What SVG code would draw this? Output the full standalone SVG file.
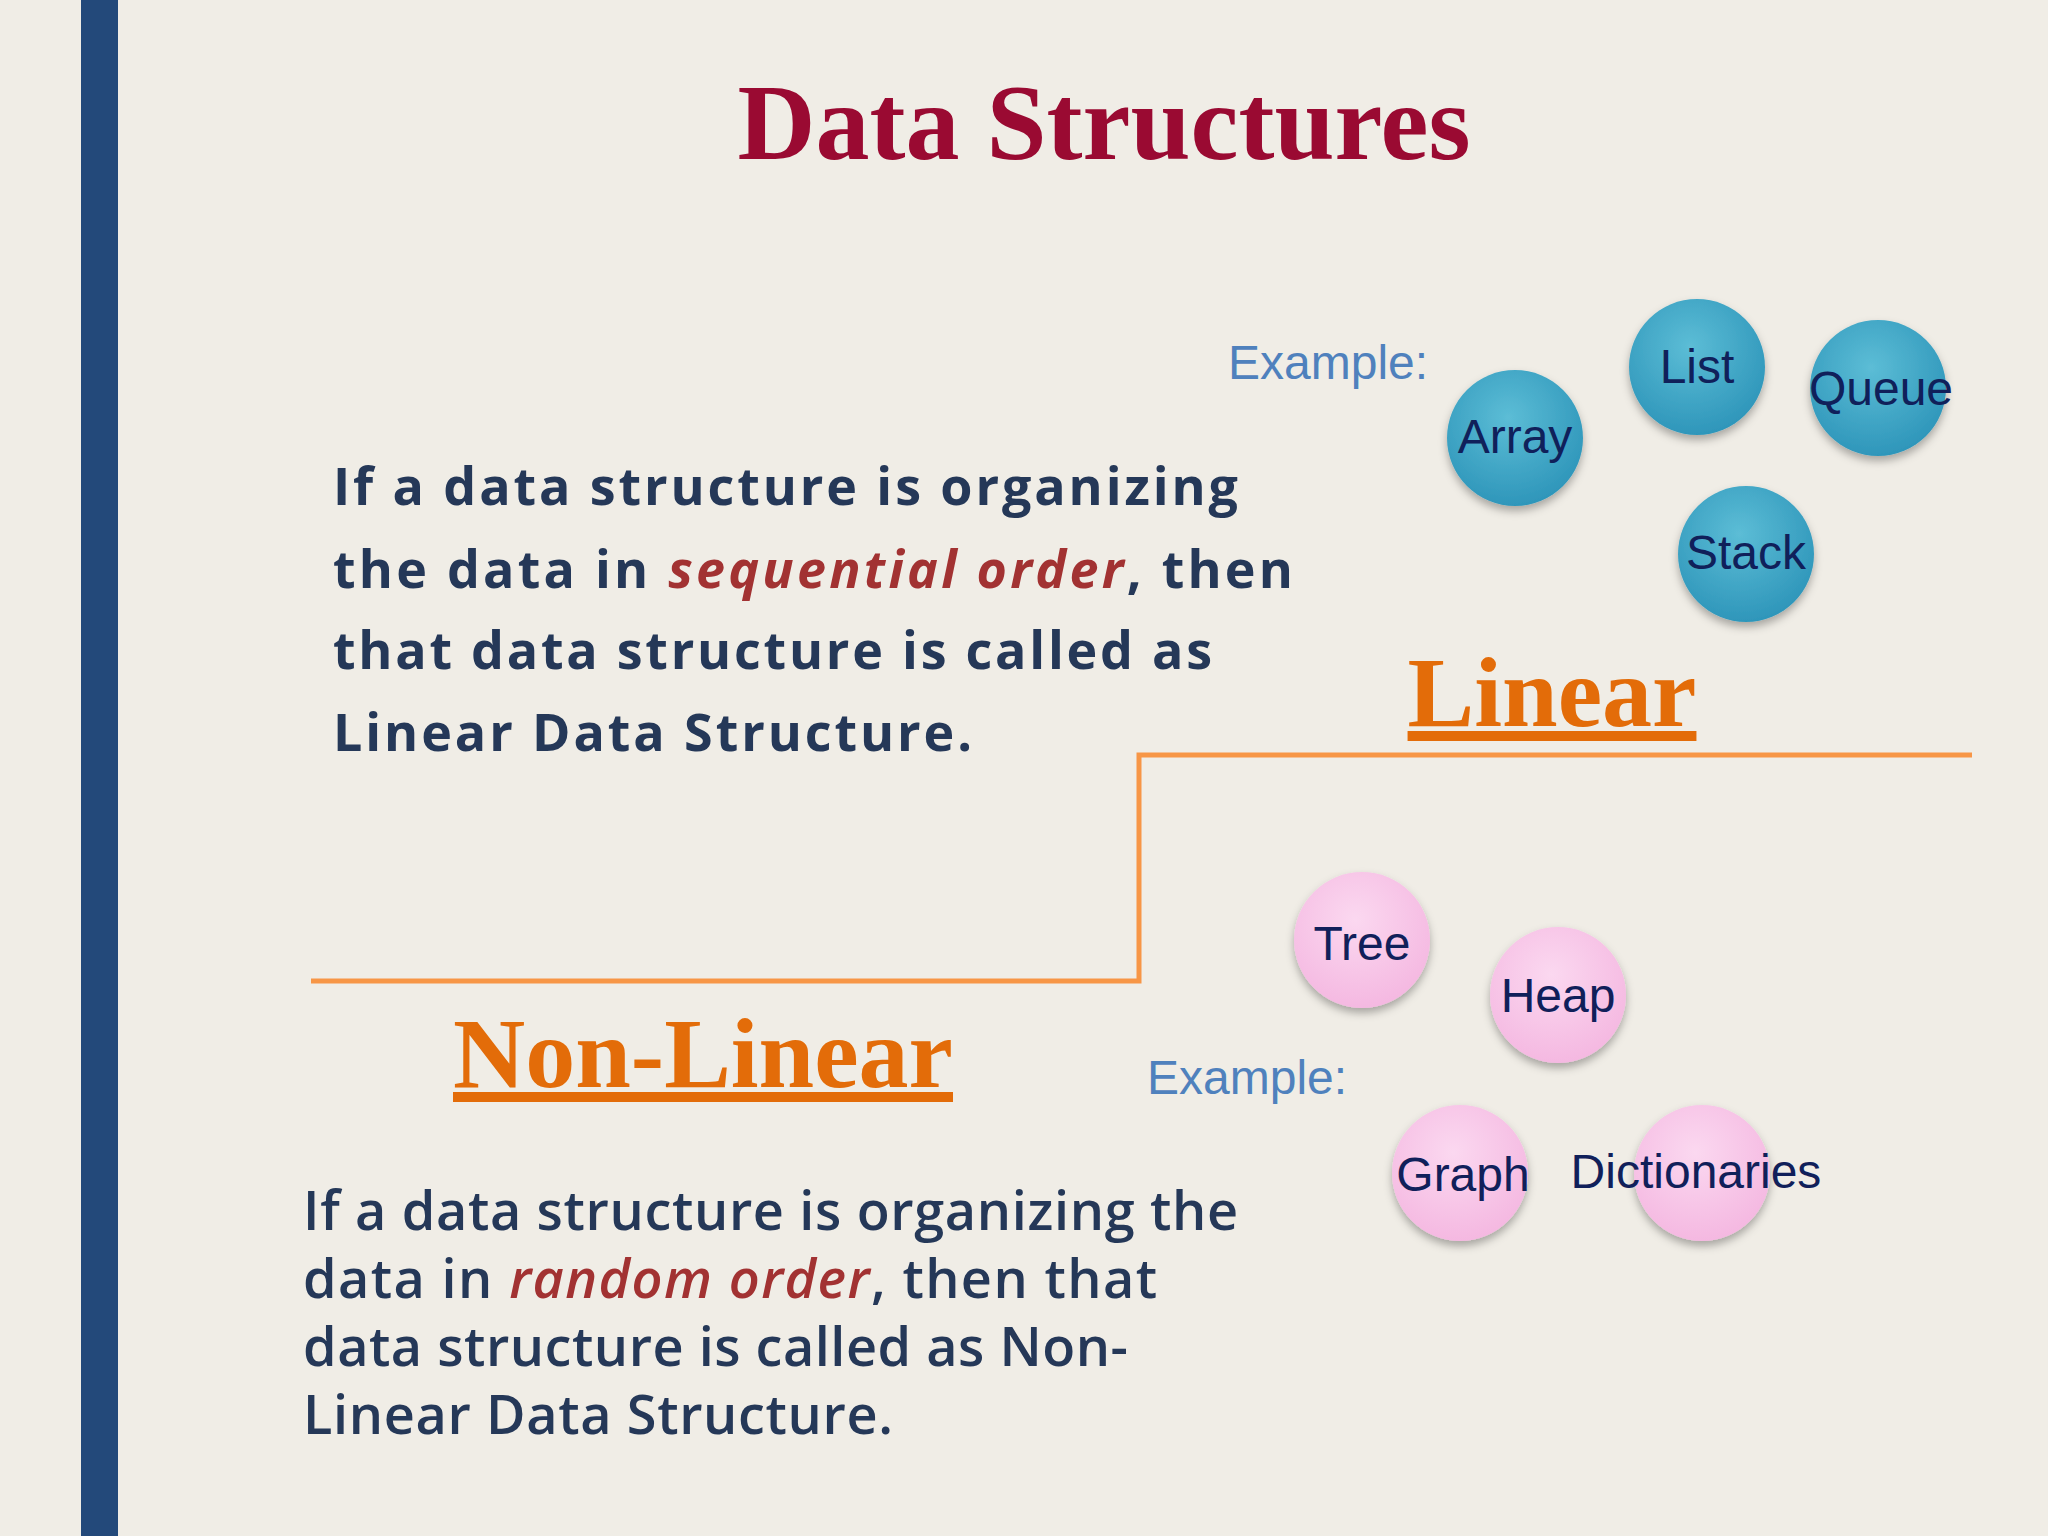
<svg xmlns="http://www.w3.org/2000/svg" width="2048" height="1536" viewBox="0 0 2048 1536">
<style>
.b circle{fill:url(#gb);filter:url(#sh)}
.p circle{fill:url(#gp);filter:url(#sh)}
.n text{font-family:"Liberation Sans",Arial,sans-serif;font-size:48px;fill:#10205a;text-anchor:middle}
.ex{font-family:"Liberation Sans",Arial,sans-serif;font-size:48px;fill:#4f81bd}
.hd{font-family:"Liberation Serif","Times New Roman",serif;font-weight:bold;font-size:100px;fill:#e36c09;text-anchor:middle;text-decoration:underline}
.t1{font-family:"Open Sans","DejaVu Sans",sans-serif;font-weight:bold;font-size:52px;fill:#253858}
.t2{font-family:"Open Sans","DejaVu Sans",sans-serif;font-weight:600;font-size:54px;fill:#253858}
.em{fill:#a23232;font-style:italic}
</style>
<defs>
<radialGradient id="gb" cx="0.45" cy="0.35" r="0.7"><stop offset="0" stop-color="#5cbdd6"/><stop offset="1" stop-color="#2b93b8"/></radialGradient>
<radialGradient id="gp" cx="0.45" cy="0.35" r="0.7"><stop offset="0" stop-color="#fbd8f0"/><stop offset="1" stop-color="#f4b6e0"/></radialGradient>
<filter id="sh" x="-30%" y="-30%" width="160%" height="170%"><feDropShadow dx="0" dy="5" stdDeviation="4" flood-color="#000" flood-opacity="0.3"/></filter>
</defs>
<rect width="2048" height="1536" fill="#f0ede6"/>
<rect x="81" y="0" width="37" height="1536" fill="#23497a"/>
<text x="1104" y="159" font-family="Liberation Serif,'Times New Roman',serif" font-weight="bold" font-size="108" fill="#9a0a32" text-anchor="middle">Data Structures</text>
<g id="connectors"><polyline points="311,981 1139,981 1139,755 1972,755" fill="none" stroke="#f79646" stroke-width="5"/></g>
<g id="linear"><text class="hd" x="1552" y="726">Linear</text></g>
<g id="nonlinear"><text class="hd" x="703" y="1087">Non-Linear</text></g>
<text class="ex" x="1228" y="379">Example:</text>
<text class="ex" x="1147" y="1094">Example:</text>
<g id="array" class="b n"><circle cx="1515" cy="438" r="68"/><text x="1515" y="453">Array</text></g>
<g id="list" class="b n"><circle cx="1697" cy="367" r="68"/><text x="1697" y="383">List</text></g>
<g id="queue" class="b n"><circle cx="1878" cy="388" r="68"/><text x="1881" y="405">Queue</text></g>
<g id="stack" class="b n"><circle cx="1746" cy="554" r="68"/><text x="1746" y="569">Stack</text></g>
<g id="tree" class="p n"><circle cx="1362" cy="940" r="68"/><text x="1362" y="960">Tree</text></g>
<g id="heap" class="p n"><circle cx="1558" cy="995" r="68"/><text x="1558" y="1012">Heap</text></g>
<g id="graph" class="p n"><circle cx="1460" cy="1173" r="68"/><text x="1463" y="1191">Graph</text></g>
<g id="dictionaries" class="p n"><circle cx="1702" cy="1173" r="68"/><text x="1696" y="1188">Dictionaries</text></g>
<text class="t1" x="333" y="505" textLength="905" lengthAdjust="spacing">If a data structure is organizing</text>
<text class="t1" x="333" y="588" textLength="960" lengthAdjust="spacing">the data in <tspan class="em">sequential order</tspan>, then</text>
<text class="t1" x="333" y="669" textLength="879" lengthAdjust="spacing">that data structure is called as</text>
<text class="t1" x="333" y="751" textLength="639" lengthAdjust="spacing">Linear Data Structure.</text>
<text class="t2" x="303" y="1230" textLength="935" lengthAdjust="spacing">If a data structure is organizing the</text>
<text class="t2" x="303" y="1298" textLength="854" lengthAdjust="spacing">data in <tspan class="em">random order</tspan>, then that</text>
<text class="t2" x="303" y="1366" textLength="825" lengthAdjust="spacing">data structure is called as Non-</text>
<text class="t2" x="303" y="1434" textLength="590" lengthAdjust="spacing">Linear Data Structure.</text>
</svg>
